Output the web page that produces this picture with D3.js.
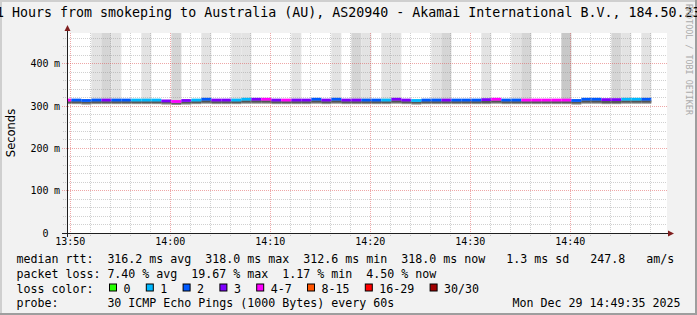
<!DOCTYPE html>
<html><head><meta charset="utf-8">
<script src="https://cdn.jsdelivr.net/npm/d3@7"></script>
<style>
body{margin:0;background:#f2f2f2}
svg{display:block}
text{font-family:"DejaVu Sans Mono",monospace;fill:#000;white-space:pre}
</style>
</head><body>
<svg id="c" width="697" height="315"></svg>
<script>
// ---------------- data ----------------
const titleText = "1 Hours from smokeping to Australia (AU), AS20940 - Akamai International B.V., 184.50.23";
const yTickValues = [0, 100, 200, 300, 400];
const yTickUnits = ["", "m", "m", "m", "m"];
const xTickLabels = ["13:50", "14:00", "14:10", "14:20", "14:30", "14:40"];
// one slot per minute, first slot starts 13:49:06, last starts 14:47:06
const slotStarts = ["13:49","13:50","13:51","13:52","13:53","13:54","13:55","13:56","13:57","13:58","13:59",
  "14:00","14:01","14:02","14:03","14:04","14:05","14:06","14:07","14:08","14:09",
  "14:10","14:11","14:12","14:13","14:14","14:15","14:16","14:17","14:18","14:19",
  "14:20","14:21","14:22","14:23","14:24","14:25","14:26","14:27","14:28","14:29",
  "14:30","14:31","14:32","14:33","14:34","14:35","14:36","14:37","14:38","14:39",
  "14:40","14:41","14:42","14:43","14:44","14:45","14:46","14:47"];
// median rtt in ms
const medianMs = [316,
  316,315,316,316,316,316,316,316,316,314,
  312.6,315,316,318,316,316,316,318,318,318,
  316,316,316,316,318,316,318,316,316,316,
  316,316,318,316,315,316,316,316,316,316,
  316,317,318,316,316,316,316,316,316,316,
  315,318,318,317,317,318,318,318];
// loss class index into loss colours
const lossClass = [4,
  2,2,2,3,2,2,1,1,1,3,
  4,3,1,2,3,3,1,1,3,4,
  3,4,3,3,2,3,2,3,3,2,
  2,1,3,3,1,2,2,3,2,2,
  2,3,4,2,2,4,4,4,4,4,
  2,2,2,3,3,1,1,2];
// smoke of lost pings reaching the top (0 none, 1 light, 2 medium, 3 dark)
const lostSmoke = [0,
  0,0,1,2,1,0,0,1,0,0,
  2,0,0,1,0,0,1,1,0,0,
  0,0,1,0,0,0,1,0,2,1,
  0,1,1,0,0,0,1,2,0,0,
  0,1,0,0,1,2,0,0,0,3,
  0,0,0,0,2,1,0,1];
// lowest ping (smoke bottom) in ms
const smokeLowMs = [312,
  312,311,312,312,312,312,312,312,312,311,
  310,311,312,313,312,312,312,313,313,313,
  312,312,312,312,313,312,313,312,312,312,
  312,312,313,312,311,312,312,312,312,312,
  312,312,313,312,312,312,312,312,312,312,
  311,313,313,312,312,313,313,313];
const lossColors = ["#26ff00","#00b8ff","#0059ff","#7e00ff","#ff00ff","#ff5500","#ff0000","#a10000"];
const lossLabels = ["0","1","2","3","4-7","8-15","16-29","30/30"];
const smokeShades = [null, "#e3e3e3", "#d5d5d5", "#c8c8c8"];
const legendRow1 = "median rtt:  316.2 ms avg  318.0 ms max  312.6 ms min  318.0 ms now   1.3 ms sd   247.8   am/s";
const legendRow2 = "packet loss: 7.40 % avg  19.67 % max  1.17 % min  4.50 % now";
const legendRow3 = "loss color:";
const legendRow4 = "probe:       30 ICMP Echo Pings (1000 Bytes) every 60s";
const dateText = "Mon Dec 29 14:49:35 2025";
const watermark = "RRDTOOL / TOBI OETIKER";

// ---------------- drawing ----------------
const W = 697, H = 315;
const svg = d3.select("#c");
const parse = d3.timeParse("%H:%M:%S");
const x = d3.scaleTime().domain([parse("13:49:40"), parse("14:49:40")]).range([67, 667]);
const y = d3.scaleLinear().domain([0, 472.5]).range([233, 33]);
const X0 = 67, X1 = 667, Y0 = 233, Y1 = 33;

svg.append("rect").attr("width", W).attr("height", H).attr("fill", "#f2f2f2");
// frame
svg.append("rect").attr("x",0).attr("y",0).attr("width",W).attr("height",2).attr("fill","#cfcfcf");
svg.append("rect").attr("x",0).attr("y",0).attr("width",2).attr("height",H).attr("fill","#cfcfcf");
svg.append("rect").attr("x",0).attr("y",H-2).attr("width",W).attr("height",2).attr("fill","#9e9e9e");
svg.append("rect").attr("x",W-2).attr("y",0).attr("width",2).attr("height",H).attr("fill","#9e9e9e");

// canvas
svg.append("rect").attr("x", X0).attr("y", Y1).attr("width", X1 - X0).attr("height", Y0 - Y1).attr("fill", "#fff");

const slots = slotStarts.map((s, i) => {
  const t0 = parse(s + ":06");
  const t1 = new Date(t0.getTime() + 60000);
  return {x0: Math.max(X0, x(t0)), x1: Math.min(X1, x(t1)), med: medianMs[i], loss: lossClass[i], lost: lostSmoke[i], low: smokeLowMs[i]};
});

const gData = svg.append("g");
gData.selectAll("rect.lost").data(slots.filter(d => d.lost > 0)).join("rect")
  .attr("class","lost")
  .attr("x", d => d.x0).attr("width", d => d.x1 - d.x0)
  .attr("y", Y1).attr("height", d => y(d.med) - Y1)
  .attr("fill", d => smokeShades[d.lost]);
gData.selectAll("rect.smoke2").data(slots).join("rect")
  .attr("class","smoke2")
  .attr("x", d => d.x0).attr("width", d => d.x1 - d.x0)
  .attr("y", d => y(d.med) + 2).attr("height", d => y(d.low) - y(d.med) + 1.2)
  .attr("fill", "#8c8c8c");
gData.selectAll("rect.smoke").data(slots).join("rect")
  .attr("class","smoke")
  .attr("x", d => d.x0).attr("width", d => d.x1 - d.x0)
  .attr("y", d => y(d.med) + 2).attr("height", d => y(d.low) - y(d.med))
  .attr("fill", "#555");
gData.selectAll("rect.med").data(slots).join("rect")
  .attr("class","med")
  .attr("x", d => d.x0).attr("width", d => d.x1 - d.x0)
  .attr("y", d => y(d.med) - 0.6).attr("height", 2.8)
  .attr("fill", d => lossColors[d.loss]);

// grid
const gGrid = svg.append("g").attr("fill","none");
const crisp = v => Math.round(v) + 0.5;
const minorY = d3.range(20, 472, 20).filter(v => v % 100 !== 0);
gGrid.selectAll("line.my").data(minorY).join("line")
  .attr("x1", 63).attr("x2", X1).attr("y1", d => crisp(y(d) - 0.5)).attr("y2", d => crisp(y(d) - 0.5))
  .attr("stroke", "#8f8f8f").attr("stroke-opacity", 0.42).attr("stroke-dasharray", "1,1");
const minorX = d3.timeMinute.every(2).range(parse("13:50:00"), parse("14:49:40")).filter(t => t.getMinutes() % 10 !== 0);
gGrid.selectAll("line.mx").data(minorX).join("line")
  .attr("y1", Y1).attr("y2", Y0 + 3).attr("x1", d => crisp(x(d))).attr("x2", d => crisp(x(d)))
  .attr("stroke", "#8f8f8f").attr("stroke-opacity", 0.42).attr("stroke-dasharray", "1,1");
const majorY = yTickValues.filter(v => v > 0);
gGrid.selectAll("line.My").data(majorY).join("line")
  .attr("x1", 62).attr("x2", X1).attr("y1", d => crisp(y(d) - 0.5)).attr("y2", d => crisp(y(d) - 0.5))
  .attr("stroke", "#de5050").attr("stroke-opacity", 0.5).attr("stroke-dasharray", "1,1");
const majorX = xTickLabels.map(s => parse(s + ":00"));
gGrid.selectAll("line.Mx").data(majorX).join("line")
  .attr("y1", Y1).attr("y2", Y0 + 4).attr("x1", d => crisp(x(d))).attr("x2", d => crisp(x(d)))
  .attr("stroke", "#de5050").attr("stroke-opacity", 0.5).attr("stroke-dasharray", "1,1");

// axes
svg.append("line").attr("x1", 67.5).attr("x2", 67.5).attr("y1", 237).attr("y2", 29).attr("stroke", "#1f1f1f");
svg.append("line").attr("x1", 62).attr("x2", 670).attr("y1", 233.5).attr("y2", 233.5).attr("stroke", "#1f1f1f");
svg.append("path").attr("d", "M64.5,31L70.5,31L67.5,25Z").attr("fill", "#801f1f");
svg.append("path").attr("d", "M668,230.5L668,236.5L674,233.5Z").attr("fill", "#801f1f");

// y tick labels
const gY = svg.append("g").style("font-size", "10px");
gY.selectAll("text.n").data(yTickValues).join("text").attr("class","n")
  .attr("x", 48.5).attr("y", d => y(d) + 3.5).attr("text-anchor", "end").text(d => d);
gY.selectAll("text.u").data(yTickValues).join("text").attr("class","u")
  .attr("x", 54).attr("y", d => y(d) + 3.5).text((d, i) => yTickUnits[i]);
// x tick labels
svg.append("g").style("font-size", "10px").selectAll("text").data(xTickLabels).join("text")
  .attr("x", d => x(parse(d + ":00"))).attr("y", 245).attr("text-anchor", "middle").text(d => d);

// y title
svg.append("text").attr("transform", "translate(14.5,133) rotate(-90)").attr("text-anchor", "middle")
  .style("font-family", "'DejaVu Sans',sans-serif").style("font-size", "11.5px").text("Seconds");

// title
svg.append("text").attr("x", -4).attr("y", 17).style("font-size", "13.3px").text(titleText);

// watermark
svg.append("text").attr("transform", "translate(685.5,4) rotate(90)").style("font-size", "8.4px")
  .style("fill", "#ababab").text(watermark);

// legend
const gL = svg.append("g").style("font-size", "11.63px");
const rowBase = [263, 277.5, 292.5, 306.5];
const lx = 16.4;
gL.append("text").attr("x", lx).attr("y", rowBase[0]).text(legendRow1);
gL.append("text").attr("x", lx).attr("y", rowBase[1]).text(legendRow2);
gL.append("text").attr("x", lx).attr("y", rowBase[2]).text(legendRow3);
gL.append("text").attr("x", lx).attr("y", rowBase[3]).text(legendRow4);
gL.append("text").attr("x", 680.5).attr("y", rowBase[3]).attr("text-anchor", "end").text(dateText);
let cx = 109;
lossLabels.forEach((lab, i) => {
  gL.append("rect").attr("x", cx + 0.5).attr("y", rowBase[2] - 8.5).attr("width", 7).attr("height", 7)
    .attr("fill", lossColors[i]).attr("stroke", "#000").attr("stroke-width", 1);
  const tx = cx + 14.5;
  gL.append("text").attr("x", tx).attr("y", rowBase[2]).text(lab);
  cx = tx + lab.length * 7 + 15.3;
});
</script>
</body></html>
